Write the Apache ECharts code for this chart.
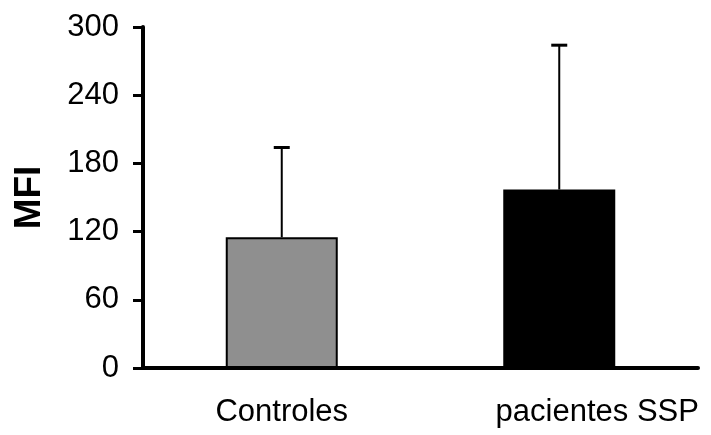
<!DOCTYPE html>
<html><head><meta charset="utf-8">
<script src="https://cdn.jsdelivr.net/npm/echarts@6/dist/echarts.min.js"></script>
<style>html,body{margin:0;padding:0;background:#fff}#c{width:711px;height:435px}</style>
</head><body><div id="c"></div>
<script>
var categories = ['Controles', 'pacientes SSP'];
var means = [115, 157];
var errorTops = [194, 284];
var barColors = ['#8f8f8f', '#000000'];
var yTicks = [0, 60, 120, 180, 240, 300];

var chart = echarts.init(document.getElementById('c'));
chart.setOption({
  animation: false,
  grid: {left: 143, right: 13, top: 27, bottom: 67, containLabel: false},
  xAxis: {
    type: 'category', data: categories,
    axisLine: {lineStyle: {color: '#000', width: 4}},
    axisTick: {show: false},
    axisLabel: {
      interval: 0, hideOverlap: false,
      color: '#000', fontFamily: 'Liberation Sans, Arial, sans-serif', fontSize: 31, margin: 29,
      formatter: function (v, i) { return i === 1 ? '{p|' + v + '}' : '{c|' + v + '}'; },
      rich: {
        c: {fontFamily: 'Liberation Sans, Arial, sans-serif', fontSize: 31, color: '#000'},
        p: {fontFamily: 'Liberation Sans, Arial, sans-serif', fontSize: 31, color: '#000', padding: [0, 0, 0, 76]}
      }
    }
  },
  yAxis: {
    type: 'value', min: yTicks[0], max: yTicks[yTicks.length - 1], interval: 60,
    name: 'MFI', nameLocation: 'middle', nameGap: 95, nameRotate: 90,
    nameTextStyle: {fontFamily: 'Liberation Sans, Arial, sans-serif', fontSize: 37, fontWeight: 'bold', color: '#000'},
    axisLine: {show: true, lineStyle: {color: '#000', width: 4}},
    axisTick: {show: true, length: 10, lineStyle: {color: '#000', width: 3}},
    axisLabel: {color: '#000', fontFamily: 'Liberation Sans, Arial, sans-serif', fontSize: 31, margin: 24},
    splitLine: {show: false}
  },
  series: [
    {
      type: 'bar', barWidth: 112, z: 2,
      data: means.map(function (v, i) {
        return {value: v, itemStyle: {color: barColors[i], borderColor: '#000', borderWidth: i === 0 ? 2 : 0}};
      })
    },
    {
      type: 'custom', z: 3,
      data: categories.map(function (c, i) { return [i, means[i], errorTops[i]]; }),
      renderItem: function (params, api) {
        var lo = api.coord([api.value(0), api.value(1)]);
        var hi = api.coord([api.value(0), api.value(2)]);
        var hw = 8;
        return {
          type: 'group',
          children: [
            {type: 'line', shape: {x1: lo[0], y1: lo[1], x2: hi[0], y2: hi[1]}, style: {stroke: '#000', lineWidth: 2}},
            {type: 'line', shape: {x1: hi[0] - hw, y1: hi[1], x2: hi[0] + hw, y2: hi[1]}, style: {stroke: '#000', lineWidth: 3}}
          ]
        };
      }
    }
  ]
});
</script></body></html>
